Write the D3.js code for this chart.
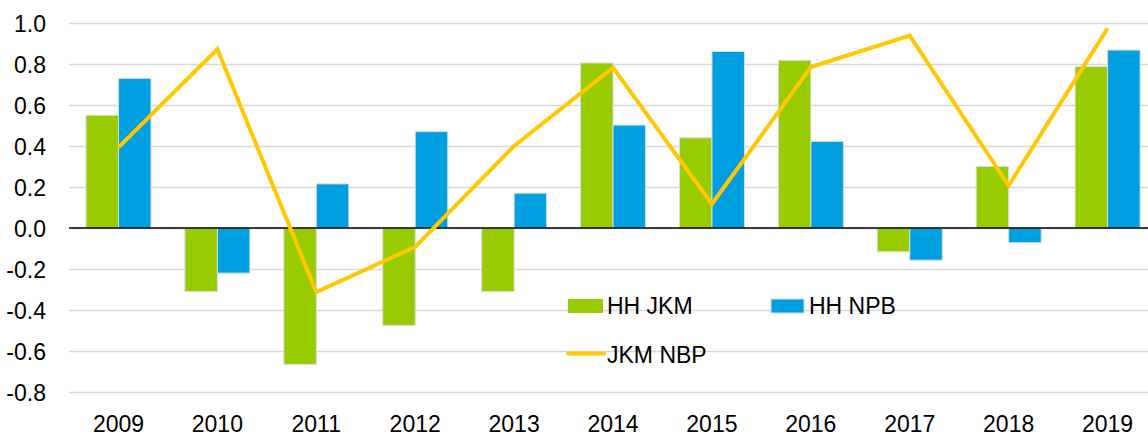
<!DOCTYPE html>
<html>
<head>
<meta charset="utf-8">
<script src="https://cdn.jsdelivr.net/npm/d3@7"></script>
<style>
  body { margin: 0; background: #fff; }
  svg { display: block; font-family: "Liberation Sans", Arial, sans-serif; }
</style>
</head>
<body>
<div id="chart"></div>
<script>
var years = ["2009", "2010", "2011", "2012", "2013", "2014", "2015", "2016", "2017", "2018", "2019"];
var hhJkm = [0.55, -0.31, -0.665, -0.475, -0.31, 0.805, 0.44, 0.818, -0.116, 0.30, 0.787];
var hhNpb = [0.73, -0.22, 0.215, 0.47, 0.17, 0.502, 0.861, 0.422, -0.157, -0.072, 0.868];
var jkmNbp = [0.393, 0.873, -0.313, -0.092, 0.40, 0.782, 0.117, 0.785, 0.938, 0.207, 0.974];
var yTicks = [1.0, 0.8, 0.6, 0.4, 0.2, 0.0, -0.2, -0.4, -0.6, -0.8];
var seriesNames = ["HH JKM", "HH NPB", "JKM NBP"];

var width = 1148, height = 434;
var green = "#99cc00", blue = "#009fdf", gold = "#ffc800";
var fontSize = "23px";

var svg = d3.select("#chart").append("svg")
            .attr("width", width)
            .attr("height", height);

var x0 = d3.scaleBand().domain(years).range([69, 1157]);
var x1 = d3.scaleBand().domain(["jkm", "npb"]).range([17, 82]);
var y = d3.scaleLinear().domain([-0.8, 1.0]).range([392, 23]);

// gridlines
svg.append("g")
   .selectAll("line")
   .data(yTicks)
   .enter()
   .append("line")
   .attr("x1", 69)
   .attr("x2", width)
   .attr("y1", function(d) { return Math.round(y(d)) + 0.5; })
   .attr("y2", function(d) { return Math.round(y(d)) + 0.5; })
   .attr("stroke", "#d9d9d9")
   .attr("stroke-width", 1.5);

// y axis labels
var yAxis = d3.axisLeft(y).tickValues(yTicks).tickSize(0).tickPadding(0)
              .tickFormat(function(d) { return d3.format(".1f")(d).replace("−", "-"); });
svg.append("g")
   .attr("transform", "translate(46,1)")
   .call(yAxis)
   .call(function(g) { g.select(".domain").remove(); })
   .selectAll("text")
   .attr("font-size", fontSize)
   .attr("fill", "#000")
   .attr("font-family", "Liberation Sans, Arial, sans-serif");

// x axis labels
var xAxis = d3.axisBottom(x0).tickSize(0).tickPadding(0);
svg.append("g")
   .attr("transform", "translate(0,416)")
   .call(xAxis)
   .call(function(g) { g.select(".domain").remove(); })
   .selectAll("text")
   .attr("font-size", fontSize)
   .attr("fill", "#000")
   .attr("font-family", "Liberation Sans, Arial, sans-serif");

// bars
var bars = years.map(function(yr, i) {
  return [{ key: "jkm", year: yr, v: hhJkm[i] }, { key: "npb", year: yr, v: hhNpb[i] }];
});

svg.append("g")
   .selectAll("g")
   .data(bars)
   .enter()
   .append("g")
   .attr("transform", function(d) { return "translate(" + x0(d[0].year) + ",0)"; })
   .selectAll("rect")
   .data(function(d) { return d; })
   .enter()
   .append("rect")
   .attr("x", function(d) { return x1(d.key); })
   .attr("width", x1.bandwidth())
   .attr("y", function(d) { return Math.min(y(d.v), y(0)); })
   .attr("height", function(d) { return Math.abs(y(d.v) - y(0)); })
   .attr("fill", function(d) { return d.key == "jkm" ? green : blue; })
   .attr("stroke", "#d6dde0")
   .attr("stroke-width", 1);

// zero line
svg.append("line")
   .attr("x1", 69)
   .attr("x2", width)
   .attr("y1", y(0))
   .attr("y2", y(0))
   .attr("stroke", "#000")
   .attr("stroke-width", 1.5);

// JKM NBP line
var line = d3.line()
             .x(function(d, i) { return x0(years[i]) + x0.bandwidth() / 2; })
             .y(function(d) { return y(d); });

svg.append("path")
   .datum(jkmNbp)
   .attr("d", line)
   .attr("fill", "none")
   .attr("stroke", gold)
   .attr("stroke-width", 4)
   .attr("stroke-linejoin", "miter");

// legend
var legend = svg.append("g").attr("font-size", fontSize);

legend.append("rect").attr("x", 568).attr("y", 299).attr("width", 35).attr("height", 14).attr("fill", green);
legend.append("text").attr("x", 607).attr("y", 314).text(seriesNames[0]);

legend.append("rect").attr("x", 771).attr("y", 299).attr("width", 33).attr("height", 14)
      .attr("fill", blue).attr("stroke", "#d6dde0").attr("stroke-width", 1);
legend.append("text").attr("x", 809).attr("y", 314).text(seriesNames[1]);

legend.append("line").attr("x1", 568).attr("x2", 604).attr("y1", 353.5).attr("y2", 353.5)
      .attr("stroke", gold).attr("stroke-width", 4).attr("stroke-linecap", "round");
legend.append("text").attr("x", 607).attr("y", 363).text(seriesNames[2]);
</script>
</body>
</html>
